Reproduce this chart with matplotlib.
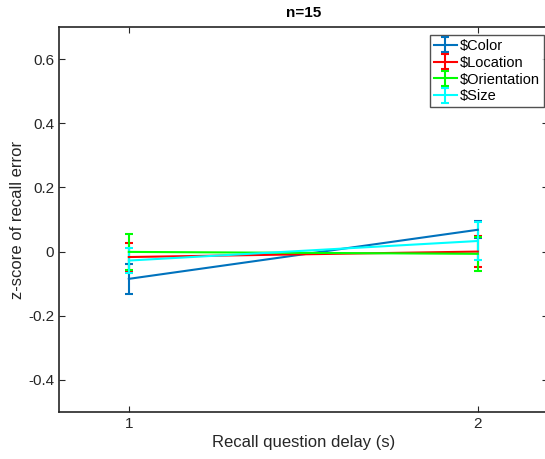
import matplotlib
matplotlib.use("Agg")
import matplotlib.pyplot as plt

plt.rcParams['font.family'] = ['Liberation Sans', 'DejaVu Sans']

delay = [1, 2]
labels = ["$Color", "$Location", "$Orientation", "$Size"]
means = [[-0.085, 0.068],
         [-0.017, 0.000],
         [-0.001, -0.007],
         [-0.028, 0.033]]
errs = [[0.047, 0.027],
        [0.043, 0.048],
        [0.057, 0.052],
        [0.040, 0.058]]
colors = ["#0072BD", "#FF0000", "#00FF00", "#00FFFF"]

fig = plt.figure(figsize=(5.45, 4.59), dpi=100)
ax = fig.add_axes([0.1083, 0.1024, 0.8965, 0.8388])

for m, e, c, lab in zip(means, errs, colors, labels):
    ax.errorbar(delay, m, yerr=e, color=c, lw=1.5, capsize=3, capthick=1.5,
                label=lab)

ax.set_xlim(0.8, 2.2)
ax.set_ylim(-0.5, 0.7)
ax.set_xticks([1, 2])
ax.set_yticks([-0.4, -0.2, 0, 0.2, 0.4, 0.6])
ax.set_yticklabels(["-0.4", "-0.2", "0", "0.2", "0.4", "0.6"])
ax.tick_params(direction='in', top=True, right=True, labelsize=11,
               color='#262626', labelcolor='#262626', length=4)
for s in ax.spines.values():
    s.set_color('#262626')
    s.set_linewidth(1.2)

ax.set_xlabel("Recall question delay (s)", fontsize=12, color='#262626', labelpad=3)
ax.set_ylabel("z-score of recall error", fontsize=12, color='#262626', labelpad=2)
ax.set_title("n=15", fontsize=11, fontweight='bold', pad=7)

leg = ax.legend(loc='upper right', bbox_to_anchor=(0.992, 0.979), fontsize=10.5,
                frameon=True, fancybox=False, edgecolor='#262626',
                handlelength=1.6, handletextpad=0.2, borderpad=0.25,
                labelspacing=0.2, borderaxespad=0)
leg.get_frame().set_linewidth(1.0)

fig.savefig("out.png", dpi=100)
